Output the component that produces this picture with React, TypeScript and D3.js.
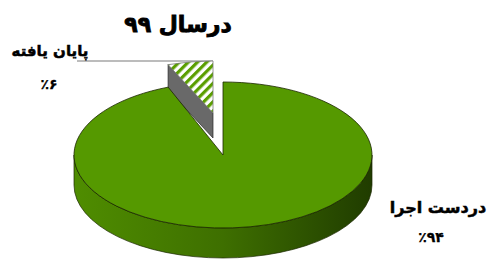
import React from "react";
import * as d3 from "d3";

const categories = ["دردست اجرا", "پایان یافته"];
const values = [94, 6];
const percentLabels = ["٪۹۴", "٪۶"];
const title = "درسال ۹۹";

const W = 493;
const H = 261;

type Geo = { cx: number; cy: number; rx: number; ry: number; depth: number };

// main slice ellipse, and the exploded (farther back, so smaller) small slice
const mainGeo: Geo = { cx: 223, cy: 155, rx: 149, ry: 73, depth: 30 };
const smallGeo: Geo = { cx: 213, cy: 113, rx: 122, ry: 52, depth: 25 };

const pt = (g: Geo, a: number, dy = 0): [number, number] => [
  g.cx + g.rx * Math.sin(a),
  g.cy - g.ry * Math.cos(a) + dy,
];

const topPath = (g: Geo, a0: number, a1: number) => {
  const p0 = pt(g, a0);
  const p1 = pt(g, a1);
  const large = a1 - a0 > Math.PI ? 1 : 0;
  return `M${g.cx},${g.cy}L${p0[0]},${p0[1]}A${g.rx},${g.ry} 0 ${large} 1 ${p1[0]},${p1[1]}Z`;
};

const wallPath = (g: Geo, a0: number, a1: number) => {
  const s = Math.max(a0, Math.PI / 2);
  const e = Math.min(a1, (3 * Math.PI) / 2);
  if (e <= s) return null;
  const p0 = pt(g, s);
  const p1 = pt(g, e);
  const q1 = pt(g, e, g.depth);
  const q0 = pt(g, s, g.depth);
  return `M${p0[0]},${p0[1]}A${g.rx},${g.ry} 0 0 1 ${p1[0]},${p1[1]}L${q1[0]},${q1[1]}A${g.rx},${g.ry} 0 0 0 ${q0[0]},${q0[1]}Z`;
};

// cut face at angle a (the side going from the edge back to the centre)
const cutPath = (g: Geo, a: number) => {
  const p = pt(g, a);
  const d = g.depth;
  return `M${g.cx},${g.cy}L${p[0]},${p[1]}L${p[0]},${p[1] + d}L${g.cx},${g.cy + d}Z`;
};

export default function App() {
  const arcs = d3
    .pie<number>()
    .sort(null)
    .value((d) => d)(values);

  const main = arcs[0];
  const small = arcs[1];
  const mainWall = wallPath(mainGeo, main.startAngle, main.endAngle);
  const smallTopPt = pt(smallGeo, small.endAngle);

  const font = "'DejaVu Sans', sans-serif";
  const bold = { fontFamily: font, fontWeight: "bold", fill: "#000", stroke: "#000" };

  return (
    <svg
      width={W}
      height={H}
      style={{ position: "absolute", left: 0, top: 0, background: "#fff" }}
    >
      <defs>
        <linearGradient
          id="wallGrad"
          gradientUnits="userSpaceOnUse"
          x1={mainGeo.cx - mainGeo.rx}
          x2={mainGeo.cx + mainGeo.rx}
          y1={0}
          y2={0}
        >
          <stop offset="0" stopColor="#4f8d00" />
          <stop offset="0.5" stopColor="#3e6f00" />
          <stop offset="1" stopColor="#203c00" />
        </linearGradient>
        <pattern
          id="hatch"
          patternUnits="userSpaceOnUse"
          width={6.5}
          height={6.5}
          patternTransform="rotate(45)"
        >
          <rect width={6.5} height={6.5} fill="#ffffff" />
          <rect width={3.2} height={6.5} fill="#5a9e00" />
        </pattern>
      </defs>

      {/* leader line to the small slice */}
      <line
        x1={77}
        x2={smallTopPt[0]}
        y1={smallTopPt[1]}
        y2={smallTopPt[1]}
        stroke="#a6a6a6"
        strokeWidth={1.5}
      />

      {/* small slice: cut face + hatched top */}
      <path
        d={cutPath(smallGeo, small.startAngle)}
        fill="#696969"
        stroke="#2a2a2a"
        strokeWidth={0.7}
      />
      <path
        d={topPath(smallGeo, small.startAngle, small.endAngle)}
        fill="url(#hatch)"
        stroke="#7a7a7a"
        strokeWidth={0.8}
      />

      {/* main slice: front wall + top */}
      {mainWall && (
        <path d={mainWall} fill="url(#wallGrad)" stroke="#1a2600" strokeWidth={0.7} />
      )}
      <path
        d={topPath(mainGeo, main.startAngle, main.endAngle)}
        fill="#559900"
        stroke="#1a2600"
        strokeWidth={0.8}
      />

      {/* title */}
      <text
        x={178}
        y={32}
        textAnchor="middle"
        direction="rtl"
        fontSize={22}
        strokeWidth={0.9}
        {...bold}
      >
        {title}
      </text>

      {/* labels */}
      <text
        x={438}
        y={213}
        textAnchor="middle"
        direction="rtl"
        fontSize={16}
        strokeWidth={0.5}
        {...bold}
      >
        {categories[0]}
      </text>
      <text
        x={431}
        y={242}
        textAnchor="middle"
        fontSize={14}
        strokeWidth={0.3}
        {...bold}
      >
        {percentLabels[0]}
      </text>
      <text
        x={50}
        y={56}
        textAnchor="middle"
        direction="rtl"
        fontSize={15}
        strokeWidth={0.5}
        {...bold}
      >
        {categories[1]}
      </text>
      <text
        x={49}
        y={89}
        textAnchor="middle"
        fontSize={14}
        strokeWidth={0.3}
        {...bold}
      >
        {percentLabels[1]}
      </text>
    </svg>
  );
}
